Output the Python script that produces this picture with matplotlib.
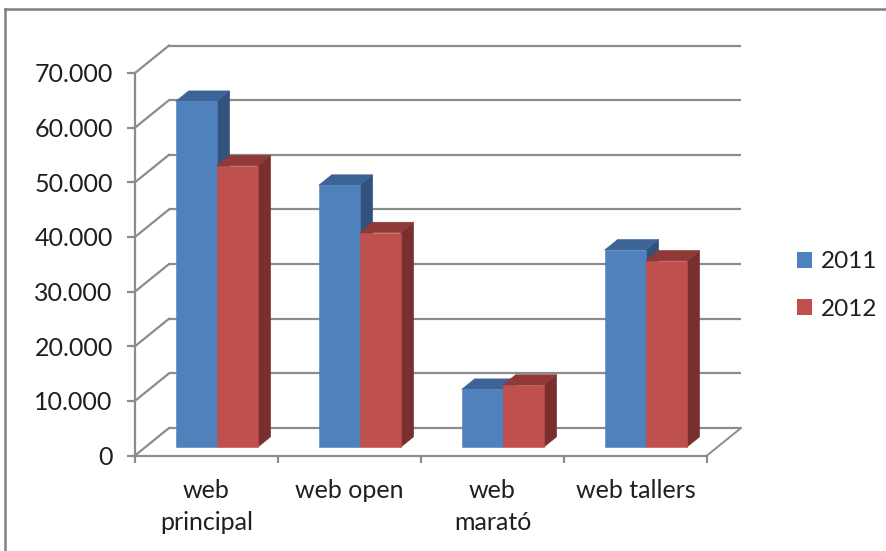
import matplotlib
matplotlib.use('Agg')
import matplotlib.pyplot as plt
from matplotlib.lines import Line2D
from matplotlib.patches import Patch

categories = ['web\nprincipal', 'web open', 'web\nmarató', 'web tallers']
series_names = ['2011', '2012']
values_2011 = [63300, 47950, 10600, 36100]
values_2012 = [51500, 39270, 11360, 34100]
y_ticks = [0, 10000, 20000, 30000, 40000, 50000, 60000, 70000]
y_labels = ['0', '10.000', '20.000', '30.000', '40.000', '50.000', '60.000', '70.000']

W, H = 887, 551
# pixel position of the front plot box
X0, X1 = 135, 707
Y0, Y70 = 455.5, 73
px_cat = (X1 - X0) / 4.0
px_val = (Y0 - Y70) / 70000.0

# depth of the 3d box, in data units
DX = 34 / px_cat
DY = 27.5 / px_val
BAR_W = 41 / px_cat
BAR_FRONT = 0.30
BAR_DEPTH = 0.38

GREY = '#8c8c8c'
TEXT = '#1f1f1f'
colors = {
    '2011': ('#4f81bd', '#3c6496', '#31527c'),
    '2012': ('#c0504d', '#8f3a37', '#792f2d'),
}

plt.rcParams['font.family'] = ['Lato', 'DejaVu Sans']

fig = plt.figure(figsize=(W / 100, H / 100), dpi=100)
ax = fig.add_axes([0, 0, 1, 1])
ax.set_xlim(-X0 / px_cat, (W - X0) / px_cat)
ax.set_ylim((Y0 - H) / px_val, Y0 / px_val)
ax.patch.set_visible(False)


def draw_bar(x, value, name):
    front, top, side = colors[name]
    x0 = x + BAR_FRONT * DX
    x1 = x0 + BAR_W
    y0 = BAR_FRONT * DY
    y1 = y0 + value
    dx = BAR_DEPTH * DX
    dy = BAR_DEPTH * DY
    ax.fill([x1, x1 + dx, x1 + dx, x1], [y0, y0 + dy, y1 + dy, y1], fc=side, ec=side, lw=0.4, zorder=5)
    ax.fill([x0, x0 + dx, x1 + dx, x1], [y1, y1 + dy, y1 + dy, y1], fc=top, ec=top, lw=0.4, zorder=5)
    ax.fill([x0, x1, x1, x0], [y0, y0, y1, y1], fc=front, ec=front, lw=0.4, zorder=5)


# back wall gridlines and the slanted ones on the left wall
for v in y_ticks:
    ax.plot([DX, 4 + DX], [v + DY, v + DY], color=GREY, lw=1.6, zorder=1, solid_capstyle='butt')
    ax.plot([0, DX], [v, v + DY], color=GREY, lw=1.6, zorder=1)
# floor edge on the right
ax.plot([4, 4 + DX], [0, DY], color=GREY, lw=1.4, zorder=1)

for i in range(len(categories)):
    draw_bar(i + 0.5 - BAR_W, values_2011[i], '2011')
    draw_bar(i + 0.5, values_2012[i], '2012')

# real axes on the front plane
for s in ['top', 'right']:
    ax.spines[s].set_visible(False)
ax.spines['left'].set_position(('data', 0))
ax.spines['bottom'].set_position(('data', 0))
ax.spines['left'].set_bounds(0, 70000)
ax.spines['bottom'].set_bounds(0, 4)
for s in ['left', 'bottom']:
    ax.spines[s].set_color(GREY)
    ax.spines[s].set_linewidth(1.6)

ax.set_yticks(y_ticks, y_labels)
ax.tick_params(axis='y', length=5.5, width=1.6, color=GREY, labelsize=18, labelcolor=TEXT, pad=10.5)
ax.set_xticks(range(5), [''] * 5)
ax.tick_params(axis='x', which='major', length=5, width=1.6, color=GREY)
ax.set_xticks([i + 0.5 for i in range(4)], categories, minor=True)
ax.tick_params(axis='x', which='minor', length=0, labelsize=18, labelcolor=TEXT, pad=17)
for lab in ax.get_xticklabels(minor=True):
    lab.set_linespacing(1.48)

handles = [Patch(facecolor=colors[n][0], edgecolor='none') for n in series_names]
ax.legend(handles, series_names, loc='center left', bbox_to_anchor=(790 / W, 1 - 285.5 / H),
          frameon=False, fontsize=17.5, labelcolor=TEXT, handlelength=0.62, handleheight=0.62,
          handletextpad=0.33, labelspacing=1.08, borderpad=0.3, borderaxespad=0)

# chart frame, cut off at the image edge
fig.add_artist(Line2D([5.5 / W, 5.5 / W], [0, 1 - 9 / H], color='#808080', lw=1.8))
fig.add_artist(Line2D([5.5 / W, 1], [1 - 9 / H, 1 - 9 / H], color='#808080', lw=1.8))

fig.savefig('out.png', dpi=100)
